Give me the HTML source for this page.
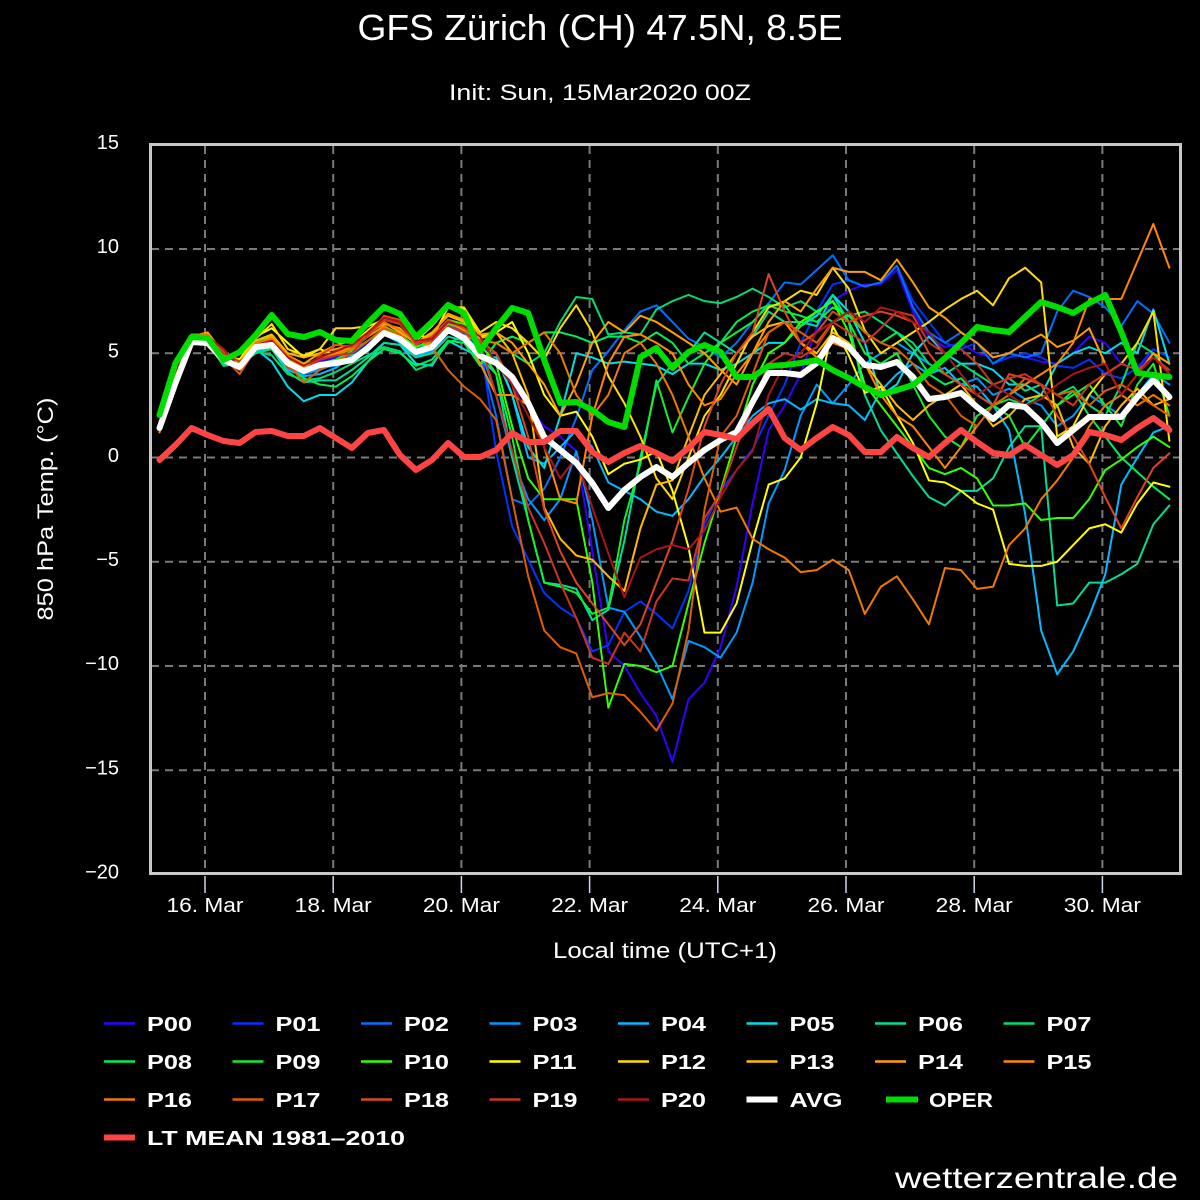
<!DOCTYPE html>
<html><head><meta charset="utf-8"><style>
html,body{margin:0;padding:0;background:#000;}
svg{display:block;}
text{font-family:"Liberation Sans","DejaVu Sans",sans-serif;fill:#fff;}
.lg{font-family:"DejaVu Sans","Liberation Sans",sans-serif;font-weight:bold;font-size:20px;}
.m polyline{fill:none;stroke-width:2;stroke-linejoin:round;stroke-linecap:round;}
.t polyline{fill:none;stroke-width:6;stroke-linejoin:round;stroke-linecap:round;}
</style></head><body>
<svg width="1200" height="1200" viewBox="0 0 1200 1200" xmlns="http://www.w3.org/2000/svg">
<rect x="0" y="0" width="1200" height="1200" fill="#000"/>
<defs><clipPath id="pc"><rect x="152" y="146" width="1027" height="726"/></clipPath></defs>

<!-- titles -->
<text x="600" y="40" font-size="36" text-anchor="middle" textLength="485" lengthAdjust="spacingAndGlyphs">GFS Zürich (CH) 47.5N, 8.5E</text>
<text x="600" y="100" font-size="22" text-anchor="middle" textLength="302" lengthAdjust="spacingAndGlyphs">Init: Sun, 15Mar2020 00Z</text>

<!-- grid -->
<g stroke="#7a7a7a" stroke-width="2" stroke-dasharray="8,6" fill="none">
<line x1="151" y1="249" x2="1180" y2="249"/>
<line x1="151" y1="353.25" x2="1180" y2="353.25"/>
<line x1="151" y1="457.5" x2="1180" y2="457.5"/>
<line x1="151" y1="561.75" x2="1180" y2="561.75"/>
<line x1="151" y1="666" x2="1180" y2="666"/>
<line x1="151" y1="770.25" x2="1180" y2="770.25"/>
<line x1="205" y1="146" x2="205" y2="873"/>
<line x1="333.2" y1="146" x2="333.2" y2="873"/>
<line x1="461.4" y1="146" x2="461.4" y2="873"/>
<line x1="589.6" y1="146" x2="589.6" y2="873"/>
<line x1="717.8" y1="146" x2="717.8" y2="873"/>
<line x1="846" y1="146" x2="846" y2="873"/>
<line x1="974.2" y1="146" x2="974.2" y2="873"/>
<line x1="1102.4" y1="146" x2="1102.4" y2="873"/>
</g>

<!-- x ticks -->
<g stroke="#ccd6eb" stroke-width="1.5">
<line x1="205" y1="876" x2="205" y2="893"/>
<line x1="333.2" y1="876" x2="333.2" y2="893"/>
<line x1="461.4" y1="876" x2="461.4" y2="893"/>
<line x1="589.6" y1="876" x2="589.6" y2="893"/>
<line x1="717.8" y1="876" x2="717.8" y2="893"/>
<line x1="846" y1="876" x2="846" y2="893"/>
<line x1="974.2" y1="876" x2="974.2" y2="893"/>
<line x1="1102.4" y1="876" x2="1102.4" y2="893"/>
</g>

<g clip-path="url(#pc)">
<g class="m" transform="translate(159.5,457.5) scale(16.03,-20.85)">
<polyline vector-effect="non-scaling-stroke" stroke="#3300ff" points="0,1.3 1,3.8 2,5.6 3,5.5 4,4.6 5,4.2 6,5.2 7,5.3 8,4.7 9,4.5 10,4.6 11,4.8 12,5 13,5.5 14,6.1 15,5.9 16,5.3 17,5.6 18,6.2 19,6 20,5.5 21,4.5 22,3.5 23,2.5 24,1.5 25,1 26,0.3 27,-4.5 28,-9.3 29,-10 30,-11.3 31,-12.4 32,-14.6 33,-11.6 34,-10.8 35,-9.1 36,-6.2 37,-2.2 38,1.3 39,2.5 40,4 41,6.2 42,7.5 43,8 44,8.3 45,8.3 46,9 47,7 48,5.8 49,5.3 50,5.5 51,5 52,4.8 53,5 54,4.8 55,4.6 56,4.5 57,5 58,5.8 59,5.5 60,4.5 61,4.2 62,5 63,4.5"/>
<polyline vector-effect="non-scaling-stroke" stroke="#0033ff" points="0,1.5 1,3.5 2,5.5 3,5.6 4,4.8 5,4.4 6,5.3 7,5.5 8,4.6 9,4.3 10,4.5 11,4.6 12,4.9 13,5.6 14,6 15,5.6 16,5.4 17,5 18,6 19,5.9 20,5.6 21,0.3 22,-3.3 23,-4.9 24,-6.5 25,-7.2 26,-7.7 27,-9.3 28,-9 29,-7.4 30,-6.9 31,-7.5 32,-8.2 33,-6.4 34,-3.2 35,-1.6 36,-0.6 37,0.4 38,2 39,3.5 40,5.5 41,7 42,8.3 43,8.5 44,8.2 45,8.4 46,9.2 47,7.5 48,6.5 49,5.5 50,5.2 51,5.5 52,4.5 53,4.8 54,5 55,4.8 56,4.4 57,4.3 58,4.7 59,4 60,3.8 61,4.3 62,5.2 63,4.8"/>
<polyline vector-effect="non-scaling-stroke" stroke="#0070ff" points="0,1.4 1,3.7 2,5.7 3,5.4 4,4.7 5,4.3 6,5.4 7,5.6 8,4.4 9,4 10,4.3 11,4.4 12,4.6 13,5.3 14,6.2 15,5.8 16,5.2 17,5.5 18,6.4 19,6 20,5 21,2 22,-2 23,-2.3 24,-1.5 25,0 26,1.9 27,4.2 28,5.1 29,6.1 30,7 31,7.3 32,6.5 33,5.7 34,5.3 35,4.8 36,5.5 37,6.5 38,7.4 39,8.4 40,8.3 41,9 42,9.7 43,8.5 44,8.2 45,8.4 46,9.2 47,7.2 48,6 49,5.5 50,6 51,5.5 52,4.5 53,5 54,4.8 55,5 56,7 57,8 58,7.7 59,7.2 60,6.3 61,7.5 62,6.9 63,5.5"/>
<polyline vector-effect="non-scaling-stroke" stroke="#0099ff" points="0,1.6 1,3.6 2,5.6 3,5.5 4,4.5 5,4.4 6,5.3 7,5.6 8,4.3 9,4 10,4.2 11,4.5 12,4.8 13,5.4 14,5.9 15,5.6 16,4.9 17,5.1 18,6 19,5.8 20,5.2 21,3 22,0 23,-2 24,-3 25,-2 26,0.3 27,-3 28,-7.2 29,-7.4 30,-8.6 31,-9.9 32,-11.6 33,-8.8 34,-9.1 35,-9.6 36,-8.4 37,-6 38,-2.2 39,-0.6 40,2 41,3.5 42,2.6 43,3.5 44,4.5 45,5 46,5.5 47,5 48,4.5 49,4 50,3.5 51,3.8 52,3 53,3.3 54,2.8 55,2.5 56,1.5 57,2 58,3 59,2.5 60,2 61,3 62,4 63,3.5"/>
<polyline vector-effect="non-scaling-stroke" stroke="#00bbff" points="0,1.4 1,3.7 2,5.5 3,5.4 4,4.6 5,4.3 6,5.1 7,5.2 8,4.2 9,3.9 10,4 11,4.3 12,4.9 13,5.1 14,5.9 15,5.5 16,4.8 17,5.2 18,6.2 19,6 20,5.6 21,5 22,3 23,0 24,-0.3 25,0.5 26,1.3 27,0.5 28,-1.2 29,-1.6 30,-2 31,-2.6 32,-2.8 33,-2 34,-0.9 35,0 36,1 37,2 38,2.6 39,2.8 40,2.3 41,2.8 42,2.6 43,2.5 44,1.8 45,3.2 46,4 47,4.5 48,4 49,4.3 50,3.5 51,3.4 52,2.5 53,1.3 54,-2.7 55,-8.3 56,-10.4 57,-9.3 58,-7.6 59,-5.6 60,-1.3 61,0 62,1.2 63,1.5"/>
<polyline vector-effect="non-scaling-stroke" stroke="#00dde8" points="0,1.3 1,3.5 2,5.5 3,5.5 4,4.4 5,4.5 6,5.2 7,4.6 8,3.4 9,2.7 10,3 11,3 12,3.6 13,4.6 14,5.5 15,5.4 16,4.5 17,4.4 18,5.6 19,5.2 20,4.8 21,4.8 22,3 23,0.5 24,-0.5 25,2 26,5 27,4.8 28,4.5 29,4.6 30,4.5 31,4.4 32,4 33,4.5 34,4.5 35,4.2 36,4.5 37,5 38,5.5 39,5.5 40,6.3 41,6.8 42,7.8 43,7 44,5.5 45,3 46,3.5 47,5 48,5.8 49,5 50,4.5 51,4.5 52,4.2 53,3.5 54,3.5 55,3 56,4.5 57,5 58,5.3 59,5 60,5.5 61,5 62,7.1 63,4.5"/>
<polyline vector-effect="non-scaling-stroke" stroke="#00dd99" points="0,1.4 1,3.6 2,5.6 3,5.4 4,4.5 5,4.4 6,5 7,5.2 8,4.1 9,3.6 10,3.7 11,3.7 12,4.2 13,4.8 14,5.5 15,5.4 16,4.8 17,5 18,5.8 19,5.6 20,4.8 21,4 22,0 23,-3 24,-6 25,-6.1 26,-6.3 27,-7.8 28,-7.3 29,-4 30,0 31,3.5 32,4.5 33,5 34,6 35,5.5 36,5 37,5.8 38,7 39,6.5 40,6.5 41,6.3 42,7.8 43,6.5 44,3 45,1.3 46,0.2 47,-0.9 48,-1.9 49,-2.3 50,-1.6 51,-1.6 52,-1 53,0.5 54,1.5 55,1.5 56,-7.1 57,-7 58,-6 59,-6 60,-5.6 61,-5.1 62,-3.2 63,-2.3"/>
<polyline vector-effect="non-scaling-stroke" stroke="#00dd70" points="0,1.5 1,3.6 2,5.5 3,5.5 4,4.4 5,4.5 6,5.1 7,4.9 8,4 9,3.7 10,3.8 11,4.1 12,4.5 13,4.9 14,5.3 15,5.1 16,4.2 17,4.5 18,5.5 19,5.8 20,4.5 21,5.5 22,5 23,4.5 24,5 25,6.5 26,7.7 27,7.6 28,5.9 29,6 30,5.9 31,7.1 32,7.5 33,7.8 34,7.5 35,7.4 36,7.7 37,8.1 38,7.7 39,7.2 40,7.5 41,7 42,6.5 43,6.8 44,7 45,6.5 46,6 47,5.5 48,4.5 49,4 50,4.5 51,4 52,3.5 53,3.8 54,3.2 55,3.5 56,3 57,3.4 58,2.5 59,2 60,3.5 61,5.5 62,5 63,4"/>
<polyline vector-effect="non-scaling-stroke" stroke="#00ee55" points="0,1.6 1,3.7 2,5.6 3,5.5 4,4.6 5,4.6 6,5.2 7,5.2 8,4.4 9,3.8 10,3.5 11,3.4 12,3.9 13,4.6 14,5.2 15,5 16,4.4 17,4.7 18,5.6 19,5.5 20,4.4 21,5.5 22,5.8 23,5.5 24,6 25,6 26,5.8 27,5.5 28,5.8 29,5.8 30,5.5 31,6 32,5.5 33,4.5 34,5 35,5.5 36,6.5 37,7 38,7.3 39,7 40,6.8 41,6.5 42,7.2 43,6.8 44,6 45,5.5 46,6 47,5.2 48,4 49,3.5 50,3.8 51,3 52,2.5 53,2.8 54,2.5 55,3 56,2.5 57,3.2 58,2 59,1 60,0 61,-0.7 62,-1.4 63,-2"/>
<polyline vector-effect="non-scaling-stroke" stroke="#11ee33" points="0,1.4 1,3.6 2,5.7 3,5.6 4,4.8 5,4.5 6,5.5 7,5.6 8,4.7 9,4.3 10,4.5 11,4.7 12,5.1 13,5.6 14,6.1 15,5.9 16,5 17,5.7 18,6.4 19,6.2 20,5.2 21,4 22,1 23,-3 24,-6 25,-6.2 26,-6.5 27,-7.5 28,-7.2 29,-3 30,-0.3 31,3.7 32,1.2 33,2.9 34,4.5 35,5.5 36,6 37,6.5 38,7.3 39,7.3 40,6.3 41,7 42,7.5 43,6.5 44,5 45,4.5 46,5 47,3.5 48,2 49,1 50,0.5 51,2 52,2.5 53,2 54,0.5 55,1.5 56,2.5 57,3 58,3.5 59,2.5 60,1.5 61,3.5 62,4.5 63,2"/>
<polyline vector-effect="non-scaling-stroke" stroke="#33ff00" points="0,1.5 1,3.8 2,5.6 3,5.7 4,5 5,4.4 6,5.6 7,5.8 8,4.8 9,4.5 10,4.7 11,4.9 12,5.2 13,5.8 14,6.3 15,5.9 16,5.3 17,5.6 18,6.6 19,6.4 20,5.4 21,4.5 22,1.5 23,-1 24,-2 25,-2 26,-2 27,-6 28,-12 29,-9.9 30,-10 31,-10.3 32,-10 33,-7 34,-4.1 35,-1.6 36,1 37,3.5 38,5 39,5.5 40,6.5 41,7 42,7.5 43,6 44,3.5 45,2.5 46,1.5 47,0.5 48,-0.5 49,-0.8 50,-0.5 51,-1 52,-2.3 53,-2.3 54,-2.2 55,-3 56,-2.9 57,-2.9 58,-2 59,-0.6 60,-0.1 61,0.5 62,1 63,0.5"/>
<polyline vector-effect="non-scaling-stroke" stroke="#ffff00" points="0,1.3 1,3.9 2,5.7 3,5.6 4,4.9 5,4.7 6,5.8 7,6.2 8,5.5 9,4.8 10,5.2 11,4.9 12,5.4 13,6.1 14,6.7 15,6.4 16,5.9 17,5.7 18,7.2 19,7.1 20,5.8 21,6 22,6.5 23,5 24,3 25,2 26,2.2 27,1 28,-0.8 29,-0.3 30,-0.1 31,0.3 32,-1.6 33,-4.3 34,-8.4 35,-8.4 36,-7 37,-4 38,-1.3 39,-1 40,0 41,2.6 42,6.3 43,4.9 44,3.1 45,3.4 46,2 47,0.7 48,-1.1 49,-1.2 50,-1.6 51,-2.2 52,-2.5 53,-5.1 54,-5.2 55,-5.2 56,-5 57,-4.2 58,-3.4 59,-3.2 60,-3.6 61,-2.2 62,-1.2 63,-1.4"/>
<polyline vector-effect="non-scaling-stroke" stroke="#ffdd00" points="0,1.5 1,3.8 2,5.8 3,5.8 4,5.1 5,4.6 6,5.7 7,6.4 8,5.2 9,4.9 10,5.2 11,6.2 12,6.2 13,6.3 14,6.6 15,6.5 16,5.6 17,6.3 18,7.2 19,7.2 20,6 21,6.5 22,6.2 23,5.5 24,4.7 25,6.2 26,7.3 27,6 28,3.9 29,2.6 30,1 31,-1 32,-2 33,0 34,2 35,3 36,4.5 37,6 38,7.2 39,7.5 40,8 41,7.8 42,9.1 43,8.1 44,6.1 45,5 46,5.5 47,6 48,6.5 49,7.1 50,7.6 51,8 52,7.3 53,8.6 54,9.1 55,8.4 56,1 57,1.5 58,3 59,4 60,4.5 61,5.5 62,7 63,0.8"/>
<polyline vector-effect="non-scaling-stroke" stroke="#ffbb00" points="0,1.4 1,3.7 2,5.7 3,5.7 4,4.9 5,4.6 6,5.6 7,5.9 8,5 9,4.8 10,5 11,5.4 12,5.6 13,5.9 14,6.5 15,6 16,5.5 17,6 18,6.8 19,6.5 20,5.7 21,6 22,5 23,3 24,-2.4 25,-3.9 26,-4.7 27,-4.9 28,-5.7 29,-6.4 30,-3.4 31,-1.3 32,-1.1 33,1 34,3 35,4 36,5 37,5.8 38,6.3 39,6.5 40,5.5 41,5 42,6 43,5.5 44,4.5 45,3.5 46,2.5 47,1.8 48,2.5 49,3 50,3.5 51,2.5 52,1.5 53,2 54,2.8 55,3 56,2.5 57,0.5 58,-0.3 59,1.5 60,2.5 61,3.3 62,2.5 63,2.8"/>
<polyline vector-effect="non-scaling-stroke" stroke="#ff9f00" points="0,1.6 1,3.8 2,5.8 3,6 4,5 5,4.4 6,5.4 7,5.8 8,4.9 9,4.5 10,5 11,5.2 12,5.4 13,6 14,6.4 15,6.2 16,5.4 17,5.9 18,6.9 19,6.6 20,5.9 21,6 22,5.5 23,4.5 24,3.5 25,2 26,3.5 27,5.5 28,6.5 29,6 30,6.8 31,6.5 32,6 33,5.5 34,5 35,4.2 36,3.5 37,5 38,6.5 39,7.5 40,7 41,8.1 42,9.1 43,8.9 44,8.9 45,8.5 46,9.5 47,8.4 48,7.2 49,6.7 50,6 51,5.5 52,4.8 53,5 54,5.5 55,5.9 56,5.3 57,5.6 58,6.2 59,4.5 60,3 61,4 62,5 63,4.5"/>
<polyline vector-effect="non-scaling-stroke" stroke="#ff8800" points="0,1.2 1,3.7 2,5.8 3,5.8 4,4.9 5,4.2 6,5.3 7,5.6 8,4.8 9,4.3 10,4.8 11,5 12,5.3 13,5.8 14,6.3 15,5.8 16,5 17,5.6 18,6.5 19,6.1 20,4.5 21,3 22,3 23,2.5 24,0.5 25,-2 26,-2.2 27,2 28,4.5 29,5.8 30,5.9 31,5.5 32,5 33,3.5 34,2.5 35,2.8 36,4 37,5 38,6 39,6.5 40,5.5 41,4.8 42,5.5 43,5.2 44,4.5 45,3 46,2 47,1.5 48,0.5 49,-0.5 50,0.5 51,1.5 52,2.5 53,3 54,3.5 55,4 56,4.5 57,5.5 58,7.6 59,7.6 60,7.6 61,9.4 62,11.2 63,9.1"/>
<polyline vector-effect="non-scaling-stroke" stroke="#ee7a00" points="0,1.5 1,3.9 2,5.9 3,5.9 4,5 5,4.3 6,5.5 7,5.7 8,4.9 9,4.4 10,4.7 11,4.9 12,5.2 13,5.9 14,6.5 15,6.1 16,5.6 17,5.4 18,6 19,5.8 20,5.6 21,5.5 22,5 23,5.5 24,6 25,5 26,3 27,2 28,3 29,5 30,5.5 31,4.5 32,3 33,1 34,-1 35,-2.6 36,-2.4 37,-3.9 38,-4.4 39,-4.8 40,-5.5 41,-5.4 42,-4.9 43,-5.4 44,-7.5 45,-6.2 46,-5.7 47,-6.8 48,-8 49,-5.3 50,-5.4 51,-6.3 52,-6.2 53,-4.2 54,-3.4 55,-2 56,-1.1 57,0 58,1.5 59,2.5 60,3 61,2.5 62,3 63,2.5"/>
<polyline vector-effect="non-scaling-stroke" stroke="#dd5f00" points="0,1.3 1,3.6 2,5.7 3,5.6 4,4.8 5,4 6,5.2 7,5.4 8,4.5 9,3.6 10,4.2 11,4.6 12,5 13,5.6 14,6.2 15,5.9 16,5.1 17,5.3 18,4.2 19,3.4 20,2.8 21,1.8 22,-2 23,-5.7 24,-8.3 25,-9.1 26,-9.4 27,-11.5 28,-11.3 29,-11.4 30,-12.2 31,-13.1 32,-11.8 33,-8.3 34,-2.5 35,1 36,2 37,4 38,6 39,6.5 40,6 41,5.5 42,6.5 43,7 44,6 45,5.5 46,5.2 47,4.5 48,3.5 49,3 50,2 51,1.5 52,2.5 53,3 54,3.8 55,3.5 56,3 57,3.2 58,2.5 59,3.2 60,3.5 61,3 62,2.5 63,2"/>
<polyline vector-effect="non-scaling-stroke" stroke="#dd4422" points="0,1.6 1,3.8 2,5.8 3,5.7 4,5.1 5,4.2 6,5.4 7,5.5 8,4.3 9,4.1 10,4.9 11,5.4 12,5.3 13,5.8 14,6.8 15,6.6 16,5.4 17,5.8 18,6.6 19,6.2 20,5.6 21,5 22,3.5 23,1 24,-2.5 25,-4.5 26,-6 27,-7 28,-8 29,-9 30,-8 31,-6 32,-4 33,-1.5 34,1.5 35,3.5 36,5 37,6 38,8.8 39,7 40,5.5 41,6 42,7 43,6.5 44,6.8 45,7 46,6.8 47,6.5 48,5 49,4 50,3.5 51,3 52,2.5 53,4 54,3.8 55,3.5 56,2 57,1 58,-0.3 59,-1.9 60,-3.4 61,-1.9 62,-0.5 63,0.2"/>
<polyline vector-effect="non-scaling-stroke" stroke="#cc3322" points="0,1.4 1,3.7 2,5.6 3,5.6 4,5 5,4.6 6,5.3 7,5.4 8,4.6 9,4.2 10,4.7 11,4.9 12,5 13,5.9 14,6.6 15,6.4 16,5.5 17,5.6 18,6.3 19,6 20,5.5 21,3 22,0.3 23,-2.4 24,-4.1 25,-6 26,-7.7 27,-9.6 28,-9.9 29,-8.4 30,-9.3 31,-6.9 32,-5.8 33,-5.9 34,-2.9 35,-1.7 36,0.5 37,2.5 38,4.5 39,5 40,4.8 41,5.3 42,6.5 43,6 44,5.5 45,6.2 46,7 47,6.8 48,5.5 49,5 50,5.2 51,4.5 52,3.5 53,3.8 54,4 55,3.5 56,3 57,2.5 58,3.5 59,4 60,4.5 61,4.2 62,4.8 63,4.2"/>
<polyline vector-effect="non-scaling-stroke" stroke="#aa1515" points="0,1.5 1,3.8 2,5.7 3,5.8 4,5.2 5,4.3 6,5.4 7,5.6 8,4.8 9,4.4 10,4.8 11,5.1 12,5.4 13,6 14,6.7 15,6.5 16,5.6 17,5.7 18,6.5 19,6.3 20,5.8 21,4.5 22,3.5 23,2 24,0.5 25,-1 26,0 27,-2.4 28,-4.6 29,-6.7 30,-4.8 31,-4.4 32,-4.2 33,-4.4 34,-3.5 35,-1.9 36,-0.6 37,0.3 38,3 39,4.5 40,5 41,6 42,6.5 43,7 44,6.5 45,7.2 46,7 47,6.5 48,6 49,5 50,4 51,3 52,3.5 53,3 54,2.5 55,2.8 56,3.5 57,4 58,4.3 59,4.5 60,3 61,4 62,4.8 63,4"/>
</g>
<g class="t" transform="translate(159.5,0) scale(16.03,1)">
<polyline vector-effect="non-scaling-stroke" stroke="#ffffff" points="0,428 1,383 2,342 3,343 4,360 5,367 6,347 7,345 8,363 9,371 10,365 11,363 12,360 13,348 14,333 15,339 16,352 17,347 18,330 19,338 20,356 21,363 22,377 23,403 24,437 25,450 26,463 27,483 28,508 29,490 30,477 31,467 32,477 33,463 34,450 35,440 36,432 37,402 38,373 39,373 40,375 41,363 42,338 43,347 44,365 45,367 46,362 47,377 48,399 49,397 50,393 51,407 52,419 53,405 54,407 55,422 56,443 57,430 58,417 59,417 60,417 61,397 62,380 63,397"/>
<polyline vector-effect="non-scaling-stroke" stroke="#00dd00" points="0,415 1,363 2,337 3,338 4,360 5,352 6,335 7,315 8,334 9,337 10,332 11,340 12,341 13,323 14,307 15,314 16,337 17,322 18,305 19,313 20,351 21,328 22,308 23,313 24,360 25,403 26,402 27,410 28,422 29,427 30,357 31,348 32,368 33,352 34,345 35,352 36,377 37,377 38,366 39,365 40,363 41,360 42,370 43,378 44,387 45,395 46,390 47,385 48,372 49,358 50,343 51,327 52,330 53,332 54,317 55,302 56,307 57,313 58,303 59,295 60,332 61,373 62,375 63,377"/>
<polyline vector-effect="non-scaling-stroke" stroke="#ff4444" points="0,460 1,445 2,428 3,435 4,441 5,443 6,432 7,431 8,436 9,436 10,428 11,438 12,448 13,433 14,430 15,455 16,470 17,460 18,443 19,457 20,457 21,450 22,433 23,442 24,442 25,431 26,431 27,452 28,462 29,453 30,446 31,453 32,461 33,448 34,432 35,435 36,439 37,423 38,409 39,438 40,450 41,438 42,427 43,435 44,452 45,452 46,437 47,448 48,457 49,443 50,430 51,442 52,453 53,455 54,445 55,455 56,465 57,455 58,432 59,435 60,440 61,428 62,418 63,430"/>
</g>
</g>

<!-- frame -->
<rect x="150.5" y="144.5" width="1030" height="729" fill="none" stroke="#c8c8c8" stroke-width="3"/>

<!-- y labels -->
<g font-size="20" text-anchor="end">
<text x="119" y="149">15</text>
<text x="119" y="253">10</text>
<text x="119" y="357.5">5</text>
<text x="119" y="462">0</text>
<text x="119" y="566">−5</text>
<text x="119" y="670">−10</text>
<text x="119" y="774.5">−15</text>
<text x="119" y="878.5">−20</text>
</g>

<!-- x labels -->
<g font-size="20" text-anchor="middle">
<text x="205" y="912" textLength="77" lengthAdjust="spacingAndGlyphs">16. Mar</text>
<text x="333.2" y="912" textLength="77" lengthAdjust="spacingAndGlyphs">18. Mar</text>
<text x="461.4" y="912" textLength="77" lengthAdjust="spacingAndGlyphs">20. Mar</text>
<text x="589.6" y="912" textLength="77" lengthAdjust="spacingAndGlyphs">22. Mar</text>
<text x="717.8" y="912" textLength="77" lengthAdjust="spacingAndGlyphs">24. Mar</text>
<text x="846" y="912" textLength="77" lengthAdjust="spacingAndGlyphs">26. Mar</text>
<text x="974.2" y="912" textLength="77" lengthAdjust="spacingAndGlyphs">28. Mar</text>
<text x="1102.4" y="912" textLength="77" lengthAdjust="spacingAndGlyphs">30. Mar</text>
</g>

<text x="665" y="958" font-size="22" text-anchor="middle" textLength="224" lengthAdjust="spacingAndGlyphs">Local time (UTC+1)</text>
<text transform="translate(53,509) rotate(-90)" font-size="22" text-anchor="middle" textLength="223" lengthAdjust="spacingAndGlyphs">850 hPa Temp. (°C)</text>

<!-- legend -->
<g stroke-width="2.5">
<line x1="104" y1="1023.5" x2="135" y2="1023.5" stroke="#3300ff"/>
<line x1="232.5" y1="1023.5" x2="263.5" y2="1023.5" stroke="#0033ff"/>
<line x1="361" y1="1023.5" x2="392" y2="1023.5" stroke="#0070ff"/>
<line x1="489.5" y1="1023.5" x2="520.5" y2="1023.5" stroke="#0099ff"/>
<line x1="618" y1="1023.5" x2="649" y2="1023.5" stroke="#00bbff"/>
<line x1="746.5" y1="1023.5" x2="777.5" y2="1023.5" stroke="#00dde8"/>
<line x1="875" y1="1023.5" x2="906" y2="1023.5" stroke="#00dd99"/>
<line x1="1003.5" y1="1023.5" x2="1034.5" y2="1023.5" stroke="#00dd70"/>
<line x1="104" y1="1061.5" x2="135" y2="1061.5" stroke="#00ee55"/>
<line x1="232.5" y1="1061.5" x2="263.5" y2="1061.5" stroke="#11ee33"/>
<line x1="361" y1="1061.5" x2="392" y2="1061.5" stroke="#33ff00"/>
<line x1="489.5" y1="1061.5" x2="520.5" y2="1061.5" stroke="#ffff00"/>
<line x1="618" y1="1061.5" x2="649" y2="1061.5" stroke="#ffdd00"/>
<line x1="746.5" y1="1061.5" x2="777.5" y2="1061.5" stroke="#ffbb00"/>
<line x1="875" y1="1061.5" x2="906" y2="1061.5" stroke="#ff9f00"/>
<line x1="1003.5" y1="1061.5" x2="1034.5" y2="1061.5" stroke="#ff8800"/>
<line x1="104" y1="1099.5" x2="135" y2="1099.5" stroke="#ee7a00"/>
<line x1="232.5" y1="1099.5" x2="263.5" y2="1099.5" stroke="#dd5f00"/>
<line x1="361" y1="1099.5" x2="392" y2="1099.5" stroke="#dd4422"/>
<line x1="489.5" y1="1099.5" x2="520.5" y2="1099.5" stroke="#cc3322"/>
<line x1="618" y1="1099.5" x2="649" y2="1099.5" stroke="#aa1515"/>
</g>
<g stroke-width="6">
<line x1="746.5" y1="1099.5" x2="777.5" y2="1099.5" stroke="#ffffff"/>
<line x1="886" y1="1099.5" x2="918" y2="1099.5" stroke="#00dd00"/>
<line x1="104" y1="1137.5" x2="135" y2="1137.5" stroke="#ff4444"/>
</g>
<g class="lg">
<text x="147" y="1031" textLength="45" lengthAdjust="spacingAndGlyphs">P00</text>
<text x="275.5" y="1031" textLength="45" lengthAdjust="spacingAndGlyphs">P01</text>
<text x="404" y="1031" textLength="45" lengthAdjust="spacingAndGlyphs">P02</text>
<text x="532.5" y="1031" textLength="45" lengthAdjust="spacingAndGlyphs">P03</text>
<text x="661" y="1031" textLength="45" lengthAdjust="spacingAndGlyphs">P04</text>
<text x="789.5" y="1031" textLength="45" lengthAdjust="spacingAndGlyphs">P05</text>
<text x="918" y="1031" textLength="45" lengthAdjust="spacingAndGlyphs">P06</text>
<text x="1046.5" y="1031" textLength="45" lengthAdjust="spacingAndGlyphs">P07</text>
<text x="147" y="1069" textLength="45" lengthAdjust="spacingAndGlyphs">P08</text>
<text x="275.5" y="1069" textLength="45" lengthAdjust="spacingAndGlyphs">P09</text>
<text x="404" y="1069" textLength="45" lengthAdjust="spacingAndGlyphs">P10</text>
<text x="532.5" y="1069" textLength="44" lengthAdjust="spacingAndGlyphs">P11</text>
<text x="661" y="1069" textLength="45" lengthAdjust="spacingAndGlyphs">P12</text>
<text x="789.5" y="1069" textLength="45" lengthAdjust="spacingAndGlyphs">P13</text>
<text x="918" y="1069" textLength="45" lengthAdjust="spacingAndGlyphs">P14</text>
<text x="1046.5" y="1069" textLength="45" lengthAdjust="spacingAndGlyphs">P15</text>
<text x="147" y="1107" textLength="45" lengthAdjust="spacingAndGlyphs">P16</text>
<text x="275.5" y="1107" textLength="45" lengthAdjust="spacingAndGlyphs">P17</text>
<text x="404" y="1107" textLength="45" lengthAdjust="spacingAndGlyphs">P18</text>
<text x="532.5" y="1107" textLength="45" lengthAdjust="spacingAndGlyphs">P19</text>
<text x="661" y="1107" textLength="45" lengthAdjust="spacingAndGlyphs">P20</text>
<text x="789.5" y="1107" textLength="53" lengthAdjust="spacingAndGlyphs">AVG</text>
<text x="929" y="1107" textLength="64" lengthAdjust="spacingAndGlyphs">OPER</text>
<text x="147" y="1145" textLength="258" lengthAdjust="spacingAndGlyphs">LT MEAN 1981–2010</text>
</g>

<text x="1178" y="1188" font-size="30" text-anchor="end" textLength="283" lengthAdjust="spacingAndGlyphs">wetterzentrale.de</text>
</svg>
</body></html>
